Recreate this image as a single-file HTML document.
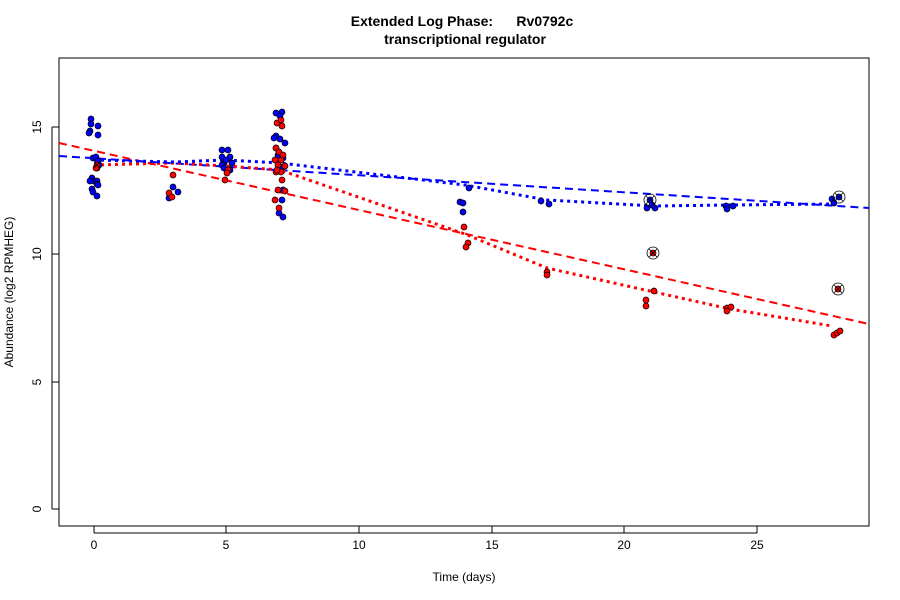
<!DOCTYPE html>
<html><head><style>body{margin:0;background:#fff}svg{display:block;font-family:"Liberation Sans",sans-serif}</style></head><body>
<svg width="900" height="600" xmlns="http://www.w3.org/2000/svg">
<rect width="900" height="600" fill="#fff"/>
<text x="462" y="26" font-size="14" font-weight="bold" text-anchor="middle" xml:space="preserve">Extended Log Phase:      Rv0792c</text>
<text x="465" y="44" font-size="14" font-weight="bold" text-anchor="middle">transcriptional regulator</text>
<rect x="59" y="58" width="810" height="468" fill="none" stroke="#000"/>
<g stroke="#000" fill="none">
<path d="M94 526v7M226 526v7M359 526v7M492 526v7M624 526v7M757 526v7M94 533H757"/>
<path d="M59 509h-7M59 382h-7M59 254h-7M59 127h-7M52 127V509"/>
</g>
<g font-size="12" text-anchor="middle">
<text x="94" y="549">0</text><text x="226" y="549">5</text><text x="359" y="549">10</text><text x="492" y="549">15</text><text x="624" y="549">20</text><text x="757" y="549">25</text>
<text x="464" y="581">Time  (days)</text>
<g transform="rotate(-90)"><text x="-509" y="41">0</text><text x="-382" y="41">5</text><text x="-254" y="41">10</text><text x="-127" y="41">15</text>
<text x="-292" y="13">Abundance  (log2 RPMHEG)</text></g>
</g>
<g stroke-width="2" fill="none">
<path d="M59 143L869 324" stroke="#f00" stroke-dasharray="8,5"/>
<path d="M59 156L869 208" stroke="#00f" stroke-dasharray="8,5"/>
<path d="M94 165L174 163L226 166L280 170L465 234L547 268L654 292L730 309L832 326" stroke="#f00" stroke-dasharray="3,4" stroke-width="3"/>
<path d="M94 160L174 162L226 160L280 163L465 185L547 200L654 206L730 205L835 204" stroke="#00f" stroke-dasharray="3,4" stroke-width="3"/>
</g>
<g stroke="#000" stroke-width="0.7" fill="#00f">
<circle cx="91" cy="119" r="3"/><circle cx="91" cy="124" r="3"/><circle cx="90" cy="131" r="3"/><circle cx="98" cy="126" r="3"/><circle cx="89" cy="133" r="3"/><circle cx="98" cy="135" r="3"/><circle cx="93" cy="158" r="3"/><circle cx="96" cy="157" r="3"/><circle cx="98" cy="161" r="3"/><circle cx="99" cy="165" r="3"/><circle cx="97" cy="168" r="3"/><circle cx="92" cy="178" r="3"/><circle cx="94" cy="181" r="3"/><circle cx="97" cy="181" r="3"/><circle cx="90" cy="181" r="3"/><circle cx="92" cy="189" r="3"/><circle cx="97" cy="184" r="3"/><circle cx="93" cy="192" r="3"/><circle cx="97" cy="196" r="3"/><circle cx="98" cy="185" r="3"/>
<circle cx="173" cy="187" r="3"/><circle cx="178" cy="192" r="3"/><circle cx="169" cy="198" r="3"/>
<circle cx="222" cy="150" r="3"/><circle cx="228" cy="150" r="3"/><circle cx="222" cy="157" r="3"/><circle cx="230" cy="157" r="3"/><circle cx="224" cy="163" r="3"/><circle cx="232" cy="163" r="3"/><circle cx="226" cy="160" r="3"/><circle cx="222" cy="165" r="3"/><circle cx="230" cy="170" r="3"/><circle cx="224" cy="168" r="3"/>
<circle cx="276" cy="113" r="3"/><circle cx="282" cy="112" r="3"/><circle cx="280" cy="116" r="3"/><circle cx="276" cy="136" r="3"/><circle cx="280" cy="139" r="3"/><circle cx="285" cy="143" r="3"/><circle cx="274" cy="138" r="3"/><circle cx="276" cy="148" r="3"/><circle cx="278" cy="155" r="3"/><circle cx="283" cy="158" r="3"/><circle cx="283" cy="167" r="3"/><circle cx="279" cy="213" r="3"/><circle cx="283" cy="217" r="3"/><circle cx="283" cy="190" r="3"/><circle cx="282" cy="200" r="3"/>
<circle cx="460" cy="202" r="3"/><circle cx="463" cy="203" r="3"/><circle cx="463" cy="212" r="3"/><circle cx="469" cy="188" r="3"/>
<circle cx="541" cy="201" r="3"/><circle cx="549" cy="204" r="3"/>
<circle cx="650" cy="200" r="3"/><circle cx="647" cy="208" r="3"/><circle cx="655" cy="208" r="3"/><circle cx="652" cy="205" r="3"/>
<circle cx="726" cy="206" r="3"/><circle cx="733" cy="206" r="3"/><circle cx="727" cy="209" r="3"/>
<circle cx="832" cy="199" r="3"/><circle cx="834" cy="203" r="3"/><circle cx="839" cy="197" r="3"/>
</g>
<g stroke="#000" stroke-width="0.7" fill="#f00">
<circle cx="97" cy="165" r="3"/><circle cx="96" cy="168" r="3"/>
<circle cx="173" cy="175" r="3"/><circle cx="169" cy="193" r="3"/><circle cx="172" cy="197" r="3"/>
<circle cx="228" cy="170" r="3"/><circle cx="227" cy="173" r="3"/><circle cx="225" cy="180" r="3"/>
<circle cx="277" cy="123" r="3"/><circle cx="281" cy="120" r="3"/><circle cx="282" cy="126" r="3"/><circle cx="276" cy="148" r="3"/><circle cx="279" cy="152" r="3"/><circle cx="281" cy="160" r="3"/><circle cx="283" cy="155" r="3"/><circle cx="275" cy="160" r="3"/><circle cx="278" cy="165" r="3"/><circle cx="285" cy="166" r="3"/><circle cx="281" cy="172" r="3"/><circle cx="276" cy="172" r="3"/><circle cx="282" cy="180" r="3"/><circle cx="278" cy="190" r="3"/><circle cx="275" cy="200" r="3"/><circle cx="279" cy="208" r="3"/><circle cx="285" cy="191" r="3"/><circle cx="277" cy="170" r="3"/>
<circle cx="464" cy="227" r="3"/><circle cx="468" cy="243" r="3"/><circle cx="466" cy="247" r="3"/>
<circle cx="547" cy="272" r="3"/><circle cx="547" cy="275" r="3"/>
<circle cx="653" cy="253" r="3"/><circle cx="654" cy="291" r="3"/><circle cx="646" cy="300" r="3"/><circle cx="646" cy="306" r="3"/>
<circle cx="727" cy="308" r="3"/><circle cx="731" cy="307" r="3"/><circle cx="727" cy="311" r="3"/>
<circle cx="834" cy="335" r="3"/><circle cx="837" cy="333" r="3"/><circle cx="840" cy="331" r="3"/><circle cx="838" cy="289" r="3"/>
</g>
<g stroke="#000" stroke-width="0.8" fill="none">
<circle cx="650" cy="200" r="6"/><path d="M646 196l8 8M654 196l-8 8"/>
<circle cx="653" cy="253" r="6"/><path d="M649 249l8 8M657 249l-8 8"/>
<circle cx="839" cy="197" r="6"/><path d="M835 193l8 8M843 193l-8 8"/>
<circle cx="838" cy="289" r="6"/><path d="M834 285l8 8M842 285l-8 8"/>
<path d="M94 162l6 6M100 162l-6 6"/>
</g>
</svg>
</body></html>
